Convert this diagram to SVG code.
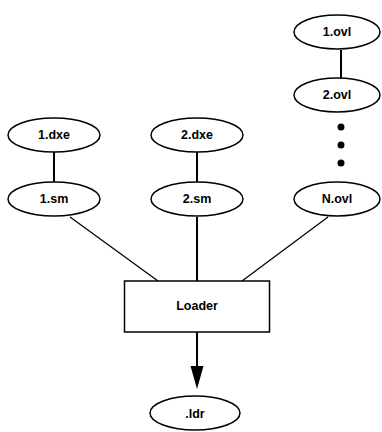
<svg xmlns="http://www.w3.org/2000/svg" width="382" height="432" viewBox="0 0 382 432">
<style>
.n ellipse, .n rect { fill: #fff; stroke: #000; stroke-width: 1.5; }
.n text { font-family: "Liberation Sans", Arial, sans-serif; font-weight: bold; font-size: 12.5px; text-anchor: middle; dominant-baseline: central; fill: #000; }
.c line { stroke: #000; stroke-width: 1.3; }
.c .thick { stroke-width: 2; }
</style>
<g class="c">
<line class="thick" x1="54" y1="152" x2="54" y2="182"/>
<line class="thick" x1="197" y1="152" x2="197" y2="182"/>
<line class="thick" x1="341" y1="50" x2="341" y2="78"/>
<line x1="70" y1="217" x2="158" y2="281"/>
<line class="thick" x1="197" y1="217" x2="197" y2="281"/>
<line x1="328" y1="217" x2="242" y2="281"/>
<line class="thick" x1="197" y1="332" x2="197" y2="368"/>
<polygon points="190.5,366 203.5,366 197,389" fill="#000"/>
<circle cx="341" cy="127" r="3.5" fill="#000"/>
<circle cx="341" cy="145" r="3.5" fill="#000"/>
<circle cx="341" cy="163" r="3.5" fill="#000"/>
</g>
<g id="n1dxe" class="n"><ellipse cx="54" cy="135" rx="46" ry="17"/><text x="54" y="135">1.dxe</text></g>
<g id="n1sm" class="n"><ellipse cx="54" cy="199" rx="46" ry="17"/><text x="54" y="199">1.sm</text></g>
<g id="n2dxe" class="n"><ellipse cx="197" cy="135" rx="46" ry="17"/><text x="197" y="135">2.dxe</text></g>
<g id="n2sm" class="n"><ellipse cx="197" cy="199" rx="46" ry="17"/><text x="197" y="199">2.sm</text></g>
<g id="n1ovl" class="n"><ellipse cx="337" cy="32" rx="43" ry="17"/><text x="337" y="32">1.ovl</text></g>
<g id="n2ovl" class="n"><ellipse cx="337" cy="95" rx="43" ry="17"/><text x="337" y="95">2.ovl</text></g>
<g id="nNovl" class="n"><ellipse cx="337" cy="199" rx="43" ry="17"/><text x="337" y="199">N.ovl</text></g>
<g id="loader" class="n"><rect x="124.5" y="281" width="145" height="51"/><text x="197" y="306">Loader</text></g>
<g id="ldr" class="n"><ellipse cx="195" cy="413" rx="45" ry="17"/><text x="195" y="414">.ldr</text></g>
</svg>
